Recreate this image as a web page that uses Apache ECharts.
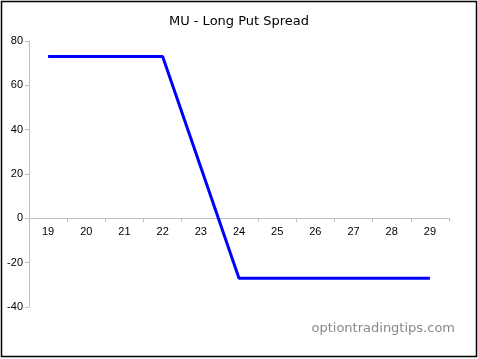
<!DOCTYPE html>
<html><head><meta charset="utf-8">
<script src="https://cdn.jsdelivr.net/npm/echarts@6/dist/echarts.min.js"></script>
<style>html,body{margin:0;padding:0;background:#fff}#c{width:478px;height:359px}</style>
</head><body><div id="c"></div>
<script>
const categories = ['19','20','21','22','23','24','25','26','27','28','29'];
const profit = [73,73,73,73,23,-27,-27,-27,-27,-27,-27];
const yTicks = {min:-40, max:80, interval:20};
const title = 'MU - Long Put Spread';
const watermark = 'optiontradingtips.com';

const chart = echarts.init(document.getElementById('c'));
// zero line sits at (0 - min)/(max - min) of plot height from the bottom
const plotH = 359 - 41 - 52;
const zeroOffset = -Math.round(plotH * (0 - yTicks.min) / (yTicks.max - yTicks.min));
chart.setOption({
  animation:false,
  backgroundColor:'#fff',
  title:{text:title,left:'center',top:10,textStyle:{fontFamily:'DejaVu Sans',fontSize:13,fontWeight:'normal',color:'#000'}},
  grid:{left:29,right:29,top:41,bottom:52},
  xAxis:{type:'category',data:categories,boundaryGap:true,offset:zeroOffset,
    axisLine:{onZero:false,lineStyle:{color:'#c0c0c0',width:1}},
    axisTick:{show:true,length:4,inside:false,lineStyle:{color:'#c0c0c0'}},
    axisLabel:{color:'#000',fontFamily:'Liberation Sans',fontSize:11,margin:8},
    splitLine:{show:false}},
  yAxis:{type:'value',min:yTicks.min,max:yTicks.max,interval:yTicks.interval,
    axisLine:{show:true,lineStyle:{color:'#c0c0c0',width:1}},
    axisTick:{show:true,length:4,lineStyle:{color:'#c0c0c0'}},
    axisLabel:{color:'#000',fontFamily:'Liberation Sans',fontSize:11,margin:6},
    splitLine:{show:false}},
  series:[{type:'line',data:profit,symbol:'none',lineStyle:{color:'#0000ff',width:3},itemStyle:{color:'#0000ff'}}],
  graphic:[
    {type:'rect',shape:{x:1.5,y:1.5,width:475,height:355},style:{fill:'none',stroke:'#000',lineWidth:1.5},silent:true},
    {type:'text',right:23,top:322,style:{text:watermark,fill:'#888888',font:'13px "DejaVu Sans"'}}
  ]
});
</script></body></html>
